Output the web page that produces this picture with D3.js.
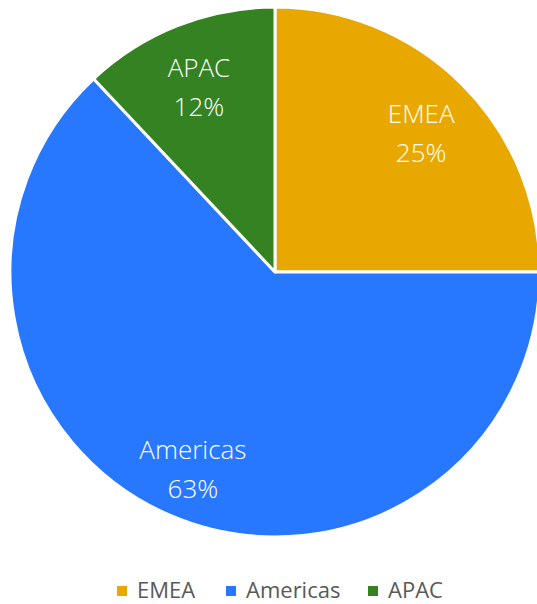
<!DOCTYPE html>
<html>
<head>
<meta charset="utf-8">
<script src="https://cdn.jsdelivr.net/npm/d3@7"></script>
<style>
  body { margin: 0; background: #fff; }
  svg { display: block; font-family: "Open Sans", "Noto Sans", sans-serif; }
</style>
</head>
<body>
<svg id="chart"></svg>
<script>
const width = 537, height = 604;

const regions = ["EMEA", "Americas", "APAC"];
const shares = [25, 63, 12];
const colors = ["#E9A800", "#2878FF", "#348221"];

const cx = 275, cy = 272, radius = 265;

const svg = d3.select("#chart")
    .attr("width", width)
    .attr("height", height);

const data = regions.map((r, i) => ({ region: r, value: shares[i] }));

const color = d3.scaleOrdinal().domain(regions).range(colors);

const pie = d3.pie()
    .value(d => d.value)
    .sort(null);

const arc = d3.arc().innerRadius(0).outerRadius(radius);
const labelArc = d3.arc().innerRadius(radius * 0.78).outerRadius(radius * 0.78);

const g = svg.append("g").attr("transform", `translate(${cx},${cy})`);

const slices = pie(data);

g.selectAll("path")
    .data(slices)
    .join("path")
    .attr("d", arc)
    .attr("fill", d => color(d.data.region))
    .attr("stroke", "#fff")
    .attr("stroke-width", 3)
    .attr("stroke-linejoin", "round");

const labels = g.selectAll("text.lbl")
    .data(slices)
    .join("text")
    .attr("class", "lbl")
    .attr("transform", d => `translate(${labelArc.centroid(d)})`)
    .attr("text-anchor", "middle")
    .attr("fill", "#fff")
    .style("font-size", "26px")
    .style("font-weight", 300);

labels.append("tspan")
    .attr("x", 0)
    .attr("y", -3)
    .text(d => d.data.region);

labels.append("tspan")
    .attr("x", 0)
    .attr("y", 36)
    .text(d => d.data.value + "%");

// legend
const legendX = [117, 226, 368];
const legend = svg.append("g").attr("transform", "translate(0,591)");

const items = legend.selectAll("g")
    .data(regions)
    .join("g")
    .attr("transform", (d, i) => `translate(${legendX[i]},0)`);

items.append("rect")
    .attr("x", 0)
    .attr("y", -5)
    .attr("width", 10)
    .attr("height", 10)
    .attr("fill", d => color(d));

items.append("text")
    .attr("x", 20)
    .attr("y", 7)
    .attr("fill", "#595959")
    .style("font-size", "22px")
    .text(d => d);
</script>
</body>
</html>
